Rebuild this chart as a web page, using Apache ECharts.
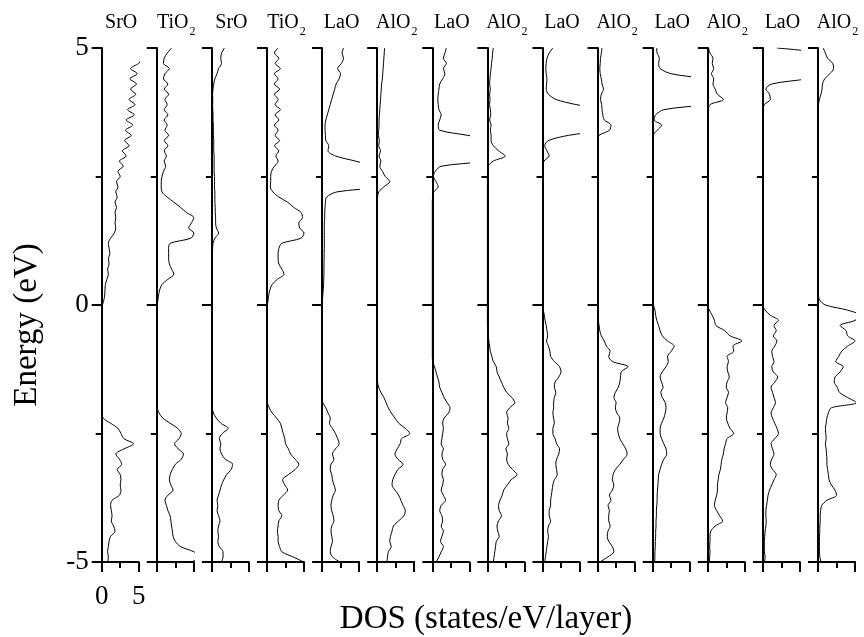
<!DOCTYPE html>
<html>
<head>
<meta charset="utf-8">
<script src="https://cdn.jsdelivr.net/npm/echarts@6/dist/echarts.min.js"></script>
<style>
  html, body { margin: 0; padding: 0; background: #fff; }
  #chart { width: 864px; height: 637px; }
</style>
</head>
<body>
<div id="chart"></div>
<script>
// Layer-resolved density of states across the SrTiO3 / LaAlO3 stack.
const layers = ['SrO', 'TiO2', 'SrO', 'TiO2', 'LaO', 'AlO2', 'LaO', 'AlO2',
                'LaO', 'AlO2', 'LaO', 'AlO2', 'LaO', 'AlO2'];

// Energy grid (eV), top to bottom.
const energies = [
  5.0, 4.9, 4.8, 4.7, 4.6, 4.5, 4.4, 4.3, 4.2, 4.1,
  4.0, 3.9, 3.8, 3.7, 3.6, 3.5, 3.4, 3.3, 3.2, 3.1,
  3.0, 2.9, 2.8, 2.7, 2.6, 2.5, 2.4, 2.3, 2.2, 2.1,
  2.0, 1.9, 1.8, 1.7, 1.6, 1.5, 1.4, 1.3, 1.2, 1.1,
  1.0, 0.9, 0.8, 0.7, 0.6, 0.5, 0.4, 0.3, 0.2, 0.1,
  0.0,
  -0.1, -0.2, -0.3, -0.4, -0.5, -0.6, -0.7, -0.8, -0.9, -1.0,
  -1.1, -1.2, -1.3, -1.4, -1.5, -1.6, -1.7, -1.8, -1.9, -2.0,
  -2.1, -2.2, -2.3, -2.4, -2.5, -2.6, -2.7, -2.8, -2.9, -3.0,
  -3.1, -3.2, -3.3, -3.4, -3.5, -3.6, -3.7, -3.8, -3.9, -4.0,
  -4.1, -4.2, -4.3, -4.4, -4.5, -4.6, -4.7, -4.8, -4.9, -5.0
];

// DOS (states/eV/layer) per layer on the energy grid above.
const dosL01 = [
  6, 6, 5.5, 5.0, 3.9, 4.8, 3.8, 4.7, 3.9, 4.6,
  3.7, 4.5, 3.5, 4.4, 3.3, 4.2, 3.2, 4.0, 3.1, 3.7,
  2.8, 3.3, 2.4, 2.9, 2.2, 2.5, 2.0, 2.2, 1.9, 2.1,
  1.8, 2.0, 1.8, 1.9, 1.8, 1.9, 1.7, 1.2, 0.9, 1.0,
  1.1, 0.9, 1.0, 0.8, 0.9, 0.7, 0.5, 0.45, 0.4, 0.3,
  0.1,
  0.05, 0.02, 0, 0, 0, 0, 0, 0, 0, 0,
  0, 0, 0, 0, 0, 0, 0, 0, 0, 0,
  0.05, 0.2, 1.2, 2.2, 2.6, 3.0, 4.3, 3.0, 1.9, 2.4,
  2.7, 2.1, 2.5, 2.6, 2.5, 2.6, 2.4, 1.4, 1.2, 1.3,
  1.4, 1.3, 1.6, 1.8, 1.2, 1.0, 0.9, 0.8, 0.9, 0.8
];
const dosL02 = [
  2.0, 1.4, 1.0, 0.9, 1.7, 1.1, 0.9, 1.5, 1.0, 1.6,
  1.1, 1.4, 1.0, 1.5, 1.0, 1.4, 1.1, 1.6, 1.0, 1.5,
  1.0, 1.3, 1.0, 1.2, 0.9, 0.7, 0.6, 0.6, 0.7, 1.4,
  2.3, 3.2, 4.0, 5.0, 4.7, 4.3, 5.0, 4.6, 1.8, 1.6,
  1.6, 1.6, 1.7, 2.0, 2.3, 1.5, 0.7, 0.4, 0.25, 0.15,
  0.05,
  0.02, 0, 0, 0, 0, 0, 0, 0, 0, 0,
  0, 0, 0, 0, 0, 0, 0, 0, 0, 0.05,
  0.3, 0.8, 1.8, 2.8, 3.3, 3.0, 2.4, 2.9, 3.6, 3.3,
  2.5, 2.1, 1.8, 1.7, 1.9, 2.2, 1.5, 1.1, 1.3, 1.5,
  1.8, 1.9, 2.0, 2.1, 2.2, 2.5, 3.2, 5.0, 6.0, 4.6
];
const dosL03 = [
  1.7, 1.3, 1.2, 1.3, 0.9, 0.7, 0.4, 0.25, 0.15, 0.1,
  0.12, 0.1, 0.12, 0.15, 0.15, 0.2, 0.2, 0.2, 0.25, 0.25,
  0.25, 0.3, 0.3, 0.3, 0.3, 0.35, 0.35, 0.35, 0.4, 0.4,
  0.4, 0.45, 0.45, 0.5, 0.5, 0.6, 0.9, 0.4, 0.15, 0.1,
  0.08, 0.06, 0.05, 0.05, 0.05, 0.04, 0.04, 0.03, 0.03, 0.02,
  0.02,
  0, 0, 0, 0, 0, 0, 0, 0, 0, 0,
  0, 0, 0, 0, 0, 0, 0, 0, 0, 0.05,
  0.2, 0.6, 1.2, 2.2, 1.4, 1.0, 1.2, 1.1, 1.3, 1.8,
  2.8, 2.6, 2.0, 1.6, 1.3, 1.1, 0.9, 0.7, 0.8, 0.7,
  0.9, 1.1, 0.9, 0.8, 0.9, 0.8, 1.0, 1.5, 1.5, 1.3
];
const dosL04 = [
  1.5, 1.0, 1.6, 1.1, 1.8, 1.0, 1.5, 1.0, 1.7, 1.0,
  1.5, 1.1, 1.8, 1.1, 1.6, 1.0, 1.5, 1.1, 1.7, 1.0,
  1.6, 1.2, 1.5, 1.0, 0.6, 0.5, 0.5, 0.45, 0.8, 1.6,
  2.8, 3.6, 4.6, 4.8, 4.3, 4.4, 5.0, 4.6, 2.0, 1.6,
  1.5, 1.5, 1.6, 2.0, 2.3, 1.4, 0.7, 0.4, 0.25, 0.15,
  0.05,
  0, 0, 0, 0, 0, 0, 0, 0, 0, 0,
  0, 0, 0, 0, 0, 0, 0, 0, 0.05, 0.3,
  0.7, 1.3, 1.8, 2.0, 2.2, 2.4, 2.5, 2.9, 3.2, 3.8,
  4.3, 3.8, 2.9, 2.1, 2.4, 2.8, 2.2, 1.6, 1.5, 1.6,
  2.0, 1.6, 1.5, 1.4, 1.5, 1.5, 1.7, 2.0, 3.5, 5.0
];
const dosL05 = [
  2.9, 2.7, 2.9, 2.6, 2.1, 2.5, 2.3, 1.9, 1.7, 1.5,
  1.3, 1.1, 0.9, 0.7, 0.5, 0.4, 0.4, 0.45, 0.5, 0.9,
  0.8, 1.8, 4.5, 7, 9, 9, 9, 8, 2.0, 0.6,
  0.45, 0.4, 0.35, 0.35, 0.3, 0.3, 0.3, 0.3, 0.3, 0.3,
  0.28, 0.27, 0.26, 0.25, 0.25, 0.22, 0.2, 0.15, 0.1, 0.05,
  0.02,
  0, 0, 0, 0, 0, 0, 0, 0, 0, 0,
  0, 0, 0, 0, 0, 0, 0, 0, 0.1, 0.5,
  0.8, 1.1, 1.0, 1.4, 1.8, 2.1, 2.3, 1.8, 1.4, 1.6,
  1.2, 1.1, 1.3, 1.4, 1.6, 1.8, 1.5, 1.3, 1.2, 1.3,
  1.5, 1.6, 1.3, 1.2, 1.3, 1.4, 1.2, 1.1, 1.4, 2.4
];
const dosL06 = [
  1.0, 0.95, 0.9, 0.85, 0.8, 0.75, 0.7, 0.6, 0.55, 0.5,
  0.45, 0.4, 0.35, 0.3, 0.25, 0.25, 0.2, 0.15, 0.3, 0.2,
  0.45, 0.25, 0.5, 0.35, 0.7, 1.1, 1.7, 0.9, 0.2, 0.05,
  0.02, 0.02, 0.02, 0.02, 0.02, 0.02, 0.02, 0.02, 0.02, 0.02,
  0.02, 0.02, 0.02, 0.02, 0.02, 0.02, 0.02, 0.02, 0.02, 0.02,
  0,
  0, 0, 0, 0, 0, 0, 0, 0, 0, 0,
  0, 0, 0, 0, 0.05, 0.2, 0.5, 0.9, 1.2, 1.5,
  1.9, 2.4, 2.9, 3.8, 4.4, 3.3, 3.1, 2.7, 2.4, 2.8,
  3.5, 2.8, 2.4, 2.1, 2.0, 2.4, 2.9, 3.2, 3.5, 3.8,
  3.6, 2.9, 2.2, 2.0, 1.8, 1.7, 1.9, 1.5, 1.4, 1.3
];
const dosL07 = [
  1.9, 1.7, 1.5, 1.9, 1.5, 1.7, 1.4, 1.0, 0.9, 0.8,
  0.75, 0.8, 0.9, 1.2, 1.0, 0.8, 1.0, 4.8, 8, 8,
  8, 8, 7, 1.2, 0.4, 0.15, 0.5, 0.8, 0.2, 0.05,
  0, 0, 0, 0, 0, 0, 0, 0, 0, 0,
  0, 0, 0, 0, 0, 0, 0, 0, 0, 0,
  0,
  0, 0, 0, 0, 0, 0, 0, 0, 0, 0,
  0.05, 0.3, 0.5, 0.7, 0.9, 1.0, 1.3, 1.6, 2.0, 2.4,
  2.2, 1.6, 1.4, 1.5, 1.4, 1.3, 1.2, 1.5, 1.3, 1.4,
  1.8, 1.4, 1.3, 1.5, 1.4, 1.2, 1.5, 1.8, 1.2, 1.0,
  1.3, 1.4, 1.2, 1.5, 1.3, 1.1, 1.5, 1.2, 0.9, 0.5
];
const dosL08 = [
  0.8, 0.7, 0.65, 0.55, 0.5, 0.4, 0.35, 0.3, 0.4, 0.3,
  0.35, 0.3, 0.4, 0.45, 0.3, 0.5, 0.4, 0.5, 0.5, 0.8,
  1.5, 2.4, 0.8, 0.1, 0.02, 0, 0, 0, 0, 0,
  0, 0, 0, 0, 0, 0, 0, 0, 0, 0,
  0, 0, 0, 0, 0, 0, 0, 0, 0, 0,
  0,
  0, 0, 0, 0, 0.05, 0.1, 0.2, 0.3, 0.4, 0.6,
  0.8, 1.2, 1.3, 1.6, 1.9, 2.2, 2.6, 3.3, 3.7, 3.0,
  2.6, 2.8, 2.7, 2.9, 2.6, 2.7, 2.9, 2.5, 2.7, 2.6,
  2.8, 3.4, 4.0, 3.2, 2.7, 2.2, 2.0, 1.7, 1.5, 1.6,
  1.9, 1.5, 1.3, 1.4, 1.6, 1.2, 1.1, 1.0, 0.9, 0.8
];
const dosL09 = [
  1.4, 0.9, 0.6, 0.5, 0.45, 0.5, 0.6, 0.55, 0.5, 0.8,
  1.8, 4.5, 8, 9, 9, 9, 8, 3.5, 0.8, 0.3,
  0.6, 0.9, 0.2, 0.02, 0, 0, 0, 0, 0, 0,
  0, 0, 0, 0, 0, 0, 0, 0, 0, 0,
  0, 0, 0, 0, 0, 0, 0, 0, 0, 0,
  0,
  0.1, 0.25, 0.35, 0.5, 0.6, 0.7, 0.55, 0.8, 1.0, 1.1,
  1.6, 2.3, 2.5, 2.2, 1.7, 1.6, 1.8, 1.6, 1.5, 1.5,
  1.4, 1.5, 1.6, 1.4, 1.4, 1.7, 1.9, 2.3, 2.2, 1.9,
  1.8, 1.9, 2.0, 1.6, 1.4, 1.3, 1.2, 1.1, 1.1, 0.9,
  0.9, 1.1, 0.8, 0.7, 0.8, 0.7, 0.6, 0.5, 0.4, 0.3
];
const dosL10 = [
  0.6, 0.5, 0.4, 0.35, 0.3, 0.35, 0.5, 0.6, 0.8, 0.5,
  0.4, 0.55, 0.6, 0.7, 0.9, 1.8, 1.6, 0.2, 0.05, 0,
  0, 0, 0, 0, 0, 0, 0, 0, 0, 0,
  0, 0, 0, 0, 0, 0, 0, 0, 0, 0,
  0, 0, 0, 0, 0, 0, 0, 0, 0, 0,
  0,
  0.02, 0.05, 0.1, 0.2, 0.3, 0.5, 0.9, 1.2, 1.7, 1.5,
  2.0, 4.1, 3.2, 3.1, 3.0, 2.8, 2.4, 2.2, 2.5, 2.4,
  2.6, 3.0, 2.9, 2.7, 2.8, 3.0, 3.4, 3.8, 4.0, 3.5,
  3.0, 2.4, 2.1, 2.0, 2.2, 2.0, 1.6, 1.8, 1.4, 1.6,
  1.5, 1.5, 1.7, 1.4, 1.3, 1.5, 2.0, 2.2, 1.4, 0.3
];
const dosL11 = [
  0.55, 0.6, 0.9, 0.8, 1.0, 2.5, 7, 9, 9, 9,
  9, 7, 1.5, 0.4, 0.2, 1.2, 0.6, 0.05, 0, 0,
  0, 0, 0, 0, 0, 0, 0, 0, 0, 0,
  0, 0, 0, 0, 0, 0, 0, 0, 0, 0,
  0, 0, 0, 0, 0, 0, 0, 0, 0, 0,
  0.1,
  0.3, 0.4, 0.55, 0.8, 1.0, 1.3, 2.0, 2.9, 2.5, 2.0,
  2.1, 1.8, 1.3, 1.0, 1.2, 1.4, 1.1, 1.3, 1.7, 1.8,
  1.7, 1.5, 1.2, 1.0, 1.0, 1.2, 1.5, 1.8, 1.9, 1.5,
  1.2, 1.0, 0.8, 0.75, 0.7, 0.65, 0.6, 0.6, 0.55, 0.5,
  0.5, 0.45, 0.45, 0.4, 0.4, 0.35, 0.35, 0.3, 0.3, 0.25
];
const dosL12 = [
  0.1, 0.3, 0.7, 0.6, 0.8, 0.5, 0.8, 0.7, 1.0, 1.3,
  2.1, 0.3, 0.05, 0, 0, 0, 0, 0, 0, 0,
  0, 0, 0, 0, 0, 0, 0, 0, 0, 0,
  0, 0, 0, 0, 0, 0, 0, 0, 0, 0,
  0, 0, 0, 0, 0, 0, 0, 0, 0, 0,
  0,
  0.2, 0.6, 0.9, 1.1, 2.3, 3.0, 4.6, 3.4, 3.5, 2.6,
  2.8, 2.6, 2.7, 2.9, 2.6, 2.5, 2.8, 2.6, 2.4, 2.7,
  2.6, 2.5, 2.7, 3.0, 3.5, 2.6, 2.4, 2.2, 2.1, 1.9,
  1.8, 1.7, 1.5, 1.4, 1.3, 1.3, 1.2, 1.0, 0.9, 1.2,
  1.6, 2.0, 1.0, 0.4, 0.3, 0.3, 0.25, 0.3, 0.25, 0.2
];
const dosL13 = [
  1.9, 8, 9, 9, 9, 9, 6, 1.2, 0.4, 0.9,
  1.0, 0.2, 0.02, 0, 0, 0, 0, 0, 0, 0,
  0, 0, 0, 0, 0, 0, 0, 0, 0, 0,
  0, 0, 0, 0, 0, 0, 0, 0, 0, 0,
  0, 0, 0, 0, 0, 0, 0, 0, 0, 0,
  0,
  0.3, 1.0, 2.1, 1.5, 1.8, 1.4, 1.9, 1.6, 1.2, 1.3,
  1.5, 1.2, 1.4, 2.0, 1.6, 1.1, 1.3, 1.5, 1.7, 1.4,
  1.1, 1.3, 1.6, 1.9, 2.1, 1.6, 1.1, 1.3, 1.5, 1.2,
  1.0, 1.3, 1.8, 1.5, 1.2, 0.9, 0.7, 0.6, 0.5, 0.4,
  0.4, 0.45, 0.4, 0.3, 0.25, 0.2, 0.2, 0.2, 0.3, 0.2
];
const dosL14 = [
  0.7, 1.0, 1.3, 2.0, 2.1, 1.6, 0.9, 0.6, 0.55, 0.4,
  0.2, 0.05, 0, 0, 0, 0, 0, 0, 0, 0,
  0, 0, 0, 0, 0, 0, 0, 0, 0, 0,
  0, 0, 0, 0, 0, 0, 0, 0, 0, 0,
  0, 0, 0, 0, 0, 0, 0, 0, 0.05, 0.2,
  1.0,
  4.0, 5.6, 5.0, 3.0, 3.8, 4.0, 5.0, 4.0, 3.2, 2.8,
  2.4, 3.4, 3.0, 2.3, 2.2, 2.6, 2.9, 4.0, 5.2, 1.8,
  1.4, 1.2, 1.1, 1.0, 1.05, 1.1, 1.0, 1.1, 1.15, 1.2,
  1.2, 1.3, 1.4, 1.5, 1.8, 2.3, 2.5, 1.2, 0.5, 0.35,
  0.3, 0.3, 0.25, 0.25, 0.2, 0.2, 0.2, 0.2, 0.25, 0.4
];

const panels = [dosL01, dosL02, dosL03, dosL04, dosL05, dosL06, dosL07,
                dosL08, dosL09, dosL10, dosL11, dosL12, dosL13, dosL14];

// Panel geometry (px)
const firstLeft = 101.7, step = 55.1, panelW = 37, plotTop = 48, plotH = 514;
const serif = '"Liberation Serif", "Times New Roman", serif';

const chart = echarts.init(document.getElementById('chart'), null, { renderer: 'canvas' });

function layerText(name) {
  const m = name.match(/^(.*?)(\d*)$/);
  return '{n|' + m[1] + '}' + (m[2] ? '{s|' + m[2] + '}' : '');
}

const axisLineStyle = { color: '#000', width: 2 };

const grids = [], xAxes = [], yAxes = [], series = [], graphics = [];
layers.forEach((name, i) => {
  const left = firstLeft + i * step;
  grids.push({ left: left, top: plotTop, width: panelW, height: plotH });
  xAxes.push({
    gridIndex: i, type: 'value', min: 0, max: 5, interval: 5,
    axisLine: { show: true, onZero: false, lineStyle: axisLineStyle },
    axisTick: { show: true, inside: false, length: 10, lineStyle: axisLineStyle },
    minorTick: { show: true, splitNumber: 2, length: 6, lineStyle: axisLineStyle },
    splitLine: { show: false }, minorSplitLine: { show: false },
    axisLabel: {
      show: i === 0, margin: 21, fontSize: 27, fontFamily: serif, color: '#000',
      showMinLabel: true, showMaxLabel: true
    }
  });
  yAxes.push({
    gridIndex: i, type: 'value', min: -5, max: 5, interval: 5,
    axisLine: { show: true, onZero: false, lineStyle: axisLineStyle },
    axisTick: { show: true, inside: false, length: 10, lineStyle: axisLineStyle },
    minorTick: { show: true, splitNumber: 2, length: 6, lineStyle: axisLineStyle },
    splitLine: { show: false }, minorSplitLine: { show: false },
    axisLabel: {
      show: i === 0, margin: 13, fontSize: 27, fontFamily: serif, color: '#000',
      showMinLabel: true, showMaxLabel: true
    }
  });
  series.push({
    type: 'line', xAxisIndex: i, yAxisIndex: i,
    data: energies.map((e, k) => [panels[i][k], e]),
    showSymbol: false, symbol: 'none', smooth: 0.3, clip: true, silent: true,
    lineStyle: { color: '#000', width: 1 }
  });
  graphics.push({
    type: 'text', x: left + panelW / 2 + 1, y: 23,
    style: {
      text: layerText(name), align: 'center', verticalAlign: 'middle', fill: '#000',
      rich: {
        n: { fontSize: 20, fontFamily: serif, lineHeight: 21, verticalAlign: 'top', color: '#000' },
        s: { fontSize: 12, fontFamily: serif, lineHeight: 12, padding: [13, 0, 0, 1], verticalAlign: 'top', color: '#000' }
      }
    }
  });
});

graphics.push({
  type: 'text', x: 27, y: 325, rotation: Math.PI / 2,
  style: { text: 'Energy (eV)', fontSize: 33, fontFamily: serif, fill: '#000', align: 'center', verticalAlign: 'middle' }
});
graphics.push({
  type: 'text', x: 486, y: 619,
  style: { text: 'DOS (states/eV/layer)', fontSize: 33, fontFamily: serif, fill: '#000', align: 'center', verticalAlign: 'middle' }
});

chart.setOption({
  backgroundColor: '#fff',
  animation: false,
  grid: grids,
  xAxis: xAxes,
  yAxis: yAxes,
  series: series,
  graphic: { elements: graphics }
});
</script>
</body>
</html>
